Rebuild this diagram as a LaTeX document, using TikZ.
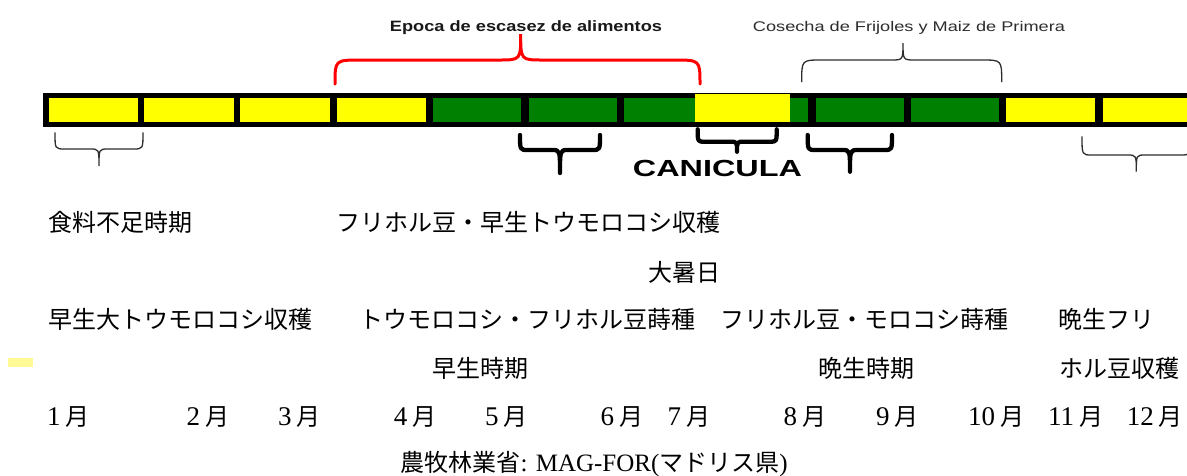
\documentclass[tikz,border=0pt]{standalone}
\usepackage{fontspec}
\setmainfont{Liberation Serif}
\newfontfamily\jpf{Noto Sans CJK JP}
\newfontfamily\arf{Liberation Sans}
\definecolor{segyellow}{RGB}{255,255,0}
\definecolor{seggreen}{RGB}{0,128,0}
\definecolor{braceink}{RGB}{45,45,45}
\definecolor{paleyellow}{RGB}{255,250,150}
% x1 x2 yend yh xm ytip r1 r2 style
\newcommand{\mybrace}[9]{\draw[#9] (#1,#3) .. controls (#1,#4) .. (#1+#7,#4) -- (#5-#8,#4) .. controls (#5,#4) .. (#5,#6) .. controls (#5,#4) .. (#5+#8,#4) -- (#2-#7,#4) .. controls (#2,#4) .. (#2,#3);}
\newcommand{\mon}[1]{{\fontsize{27}{30}\selectfont #1}\hspace{5pt}{\jpf\fontsize{24}{28}\selectfont 月}}
\tikzset{
  yseg/.style={fill=segyellow},
  gseg/.style={fill=seggreen},
  thinbrace/.style={draw=braceink,line width=1.3pt,line cap=round},
  thickbrace/.style={draw=black,line width=4.3pt,line cap=round,line join=round},
  redbrace/.style={draw=red,line width=3pt,line cap=round},
  jptext/.style={anchor=base west,inner sep=0pt,font=\jpf\fontsize{24}{28}\selectfont},
  monthlabel/.style={anchor=base west,inner sep=0pt},
}
\begin{document}
\begin{tikzpicture}[x=1pt,y=-1pt]
\clip (0,0) rectangle (1187,475);
\fill[white] (0,0) rectangle (1187,475);
% bar
\fill[black] (42.7,92.7) rectangle (1195,127.3);
\fill[yseg] (49,98.3) rectangle (138.3,121.7);
\fill[yseg] (144,98.3) rectangle (234.3,121.7);
\fill[yseg] (240,98.3) rectangle (330,121.7);
\fill[yseg] (337.3,98.3) rectangle (425.7,121.7);
\fill[gseg] (432.7,98.3) rectangle (521,121.7);
\fill[gseg] (529,98.3) rectangle (616.7,121.7);
\fill[gseg] (624.3,98.3) rectangle (695,121.7);
\fill[yseg] (695,94) rectangle (790,121.7);
\fill[gseg] (790,98.3) rectangle (807.7,121.7);
\fill[gseg] (816,98.3) rectangle (903.7,121.7);
\fill[gseg] (911.3,98.3) rectangle (999.3,121.7);
\fill[yseg] (1006.3,98.3) rectangle (1095.3,121.7);
\fill[yseg] (1102.7,98.3) rectangle (1195,121.7);
% braces above
\mybrace{335}{700}{84}{60}{520.7}{34}{26}{22}{redbrace}
\mybrace{801.7}{1001.7}{81.7}{60}{903}{43}{20}{12}{thinbrace}
% braces below
\mybrace{55}{143}{132.7}{149}{99}{166}{10}{9}{thinbrace}
\mybrace{520}{600}{135}{150}{560}{173}{8}{8}{thickbrace}
\mybrace{697.7}{776.7}{129.3}{141.7}{737}{151.7}{7}{7}{thickbrace}
\mybrace{807.7}{892}{135}{150}{850}{171.7}{8}{8}{thickbrace}
\mybrace{1082}{1190.6}{136.7}{155}{1136.3}{171.7}{10}{9}{thinbrace}
% labels above / below bar
\node[anchor=base,inner sep=0pt,text=black!90,font=\arf\bfseries\fontsize{15}{18}\selectfont] (epoca) at (526,31.7) {\scalebox{1.213}[1]{Epoca de escasez de alimentos}};
\node[anchor=base,inner sep=0pt,text=braceink,font=\arf\fontsize{14}{17}\selectfont] (cosecha) at (909,31.7) {\scalebox{1.298}[1]{Cosecha de Frijoles y Maiz de Primera}};
\node[anchor=base,inner sep=0pt,text=black,font=\arf\bfseries\fontsize{23.3}{26}\selectfont] (canicula) at (717.5,176.7) {\scalebox{1.39}[1]{CANICULA}};
% japanese text
\node[jptext] (t1) at (48.3,231) {食料不足時期};
\node[jptext] (t2) at (336,231) {フリホル豆・早生トウモロコシ収穫};
\node[jptext] (t3) at (647.8,281.5) {大暑日};
\node[jptext] (t4) at (48.3,328.5) {早生大トウモロコシ収穫};
\node[jptext] (t5) at (359.5,328.5) {トウモロコシ・フリホル豆蒔種};
\node[jptext] (t6) at (720,328.5) {フリホル豆・モロコシ蒔種};
\node[jptext] (t7) at (1058.5,328.5) {晩生フリ};
\node[jptext] (t8) at (432.5,377) {早生時期};
\node[jptext] (t9) at (818,377) {晩生時期};
\node[jptext] (t10) at (1059,377) {ホル豆収穫};
% months
\node[monthlabel] (m1) at (46.8,425) {\mon{1}};
\node[monthlabel] (m2) at (186.5,425) {\mon{2}};
\node[monthlabel] (m3) at (278,425) {\mon{3}};
\node[monthlabel] (m4) at (393.7,425) {\mon{4}};
\node[monthlabel] (m5) at (485,425) {\mon{5}};
\node[monthlabel] (m6) at (600.5,425) {\mon{6}};
\node[monthlabel] (m7) at (667.5,425) {\mon{7}};
\node[monthlabel] (m8) at (783.5,425) {\mon{8}};
\node[monthlabel] (m9) at (876,425) {\mon{9}};
\node[monthlabel] (m10) at (967.8,425) {\mon{10}};
\node[monthlabel] (m11) at (1048,425) {\mon{11}};
\node[monthlabel] (m12) at (1126.6,425) {\mon{12}};
% credit
\node[monthlabel,font=\fontsize{25}{28}\selectfont] (credit) at (400.3,471.5) {{\jpf\fontsize{24}{28}\selectfont 農牧林業省}: MAG-FOR({\jpf\fontsize{24}{28}\selectfont マドリス県})};
% small pale yellow mark
\fill[paleyellow] (8.4,358.3) rectangle (32.5,366.7);
\end{tikzpicture}
\end{document}
